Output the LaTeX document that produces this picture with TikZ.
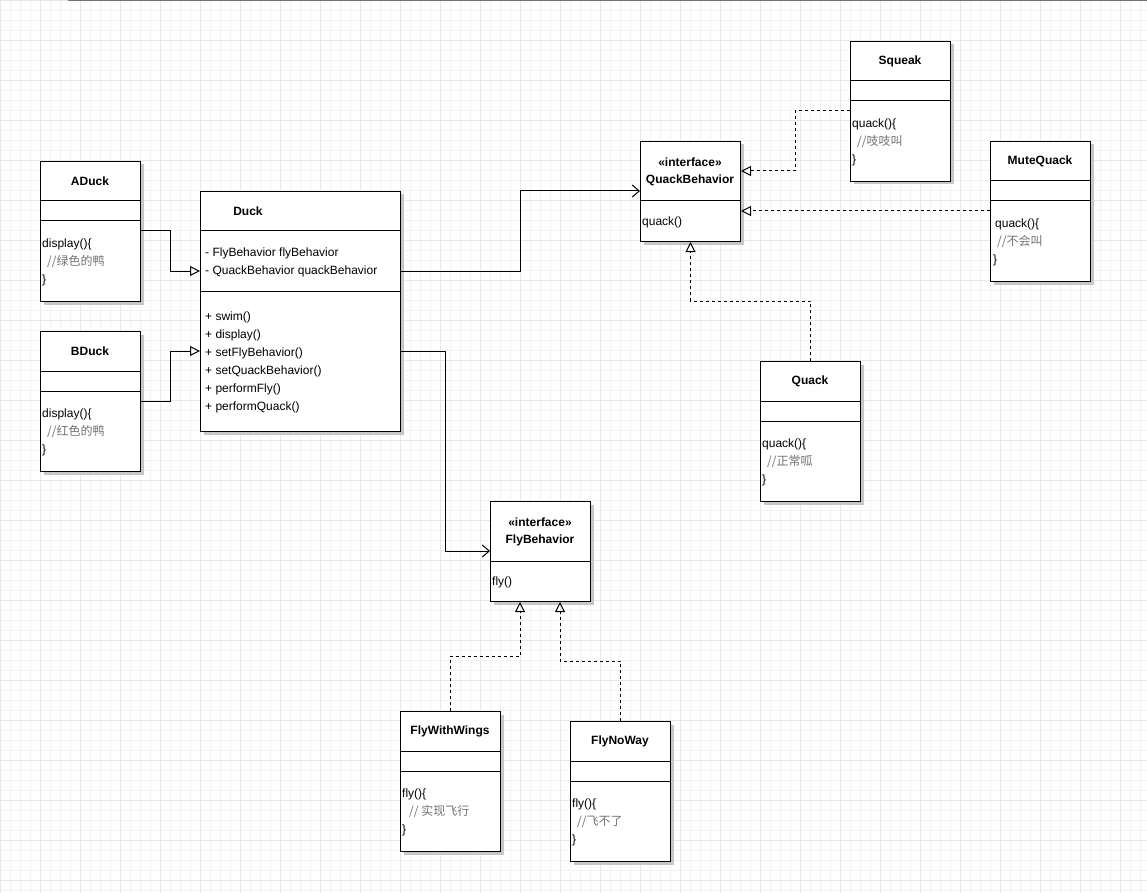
\documentclass[tikz,border=0pt]{standalone}
\usepackage{fontspec}
\setmainfont{Liberation Sans}
\newfontfamily\cjk{Noto Sans CJK SC}
\usetikzlibrary{arrows.meta,shadows}
\tikzset{
  box/.style={draw, line width=1pt, fill=white, inner sep=0pt, anchor=north west,
    drop shadow={shadow xshift=3pt, shadow yshift=-3pt, fill=black!22, opacity=1}},
  div/.style={line width=1pt},
  ttl/.style={inner sep=0pt, font=\fontsize{12}{14}\selectfont\bfseries},
  txt/.style={inner sep=0pt, anchor=mid west, yshift=-1.5pt, font=\fontsize{12}{14}\selectfont},
  cmt/.style={inner sep=0pt, anchor=mid west, yshift=-1.5pt, text=black!55, font=\fontsize{12}{14}\selectfont\cjk},
  gen/.style={line width=1pt, -{Triangle[open, length=10pt, width=10pt]}},
  real/.style={line width=1pt, dash pattern=on 3pt off 3pt, -{Triangle[open, length=10pt, width=10pt]}},
  assoc/.style={line width=1pt, -{Straight Barb[length=7pt, width=12pt, line width=1pt]}},
}
\begin{document}
\begin{tikzpicture}[x=1pt, y=-1pt]
\useasboundingbox (0,0) rectangle (1147,893);
\fill[white] (0,0) rectangle (1147,893);
\draw[black!5, line width=0.6pt, step=10pt] (0,0) grid (1147,893);
\draw[black!9, line width=0.8pt, step=40pt] (0,0) grid (1147,893);
\draw[black!55, line width=1.5pt] (68,0.5) -- (1147,0.5);

% ---- ADuck
\node[box, minimum width=100pt, minimum height=140pt] (aduck) at (40,161) {};
\draw[div] ([yshift=-40pt]aduck.north west) -- ([yshift=-40pt]aduck.north east);
\draw[div] ([yshift=-60pt]aduck.north west) -- ([yshift=-60pt]aduck.north east);
\node[ttl] (aduckT) at (90,181) {ADuck};
\node[txt] (aduckM1) at (42,243) {display()\{};
\node[cmt] (aduckM2) at (47,261) {//绿色的鸭};
\node[txt] (aduckM3) at (42,279) {\}};

% ---- BDuck
\node[box, minimum width=100pt, minimum height=140pt] (bduck) at (40,331) {};
\draw[div] ([yshift=-40pt]bduck.north west) -- ([yshift=-40pt]bduck.north east);
\draw[div] ([yshift=-60pt]bduck.north west) -- ([yshift=-60pt]bduck.north east);
\node[ttl] (bduckT) at (90,351) {BDuck};
\node[txt] (bduckM1) at (42,413) {display()\{};
\node[cmt] (bduckM2) at (47,431) {//红色的鸭};
\node[txt] (bduckM3) at (42,449) {\}};

% ---- Duck
\node[box, minimum width=200pt, minimum height=240pt] (duck) at (200,191) {};
\draw[div] ([yshift=-40pt]duck.north west) -- ([yshift=-40pt]duck.north east);
\draw[div] ([yshift=-100pt]duck.north west) -- ([yshift=-100pt]duck.north east);
\node[ttl] (duckT) at (248,211) {Duck};
\node[txt] (duckA1) at (205,252) {- FlyBehavior flyBehavior};
\node[txt] (duckA2) at (205,270) {- QuackBehavior quackBehavior};
\node[txt] (duckM1) at (205,316) {+ swim()};
\node[txt] (duckM2) at (205,334) {+ display()};
\node[txt] (duckM3) at (205,352) {+ setFlyBehavior()};
\node[txt] (duckM4) at (205,370) {+ setQuackBehavior()};
\node[txt] (duckM5) at (205,388) {+ performFly()};
\node[txt] (duckM6) at (205,406) {+ performQuack()};

% ---- QuackBehavior
\node[box, minimum width=100pt, minimum height=100pt] (qb) at (640,141) {};
\draw[div] ([yshift=-60pt]qb.north west) -- ([yshift=-60pt]qb.north east);
\node[ttl] (qbS) at (690,162) {«interface»};
\node[ttl] (qbT) at (690,180) {QuackBehavior};
\node[txt] (qbM) at (642,221) {quack()};

% ---- Squeak
\node[box, minimum width=100pt, minimum height=140pt] (squeak) at (850,41) {};
\draw[div] ([yshift=-40pt]squeak.north west) -- ([yshift=-40pt]squeak.north east);
\draw[div] ([yshift=-60pt]squeak.north west) -- ([yshift=-60pt]squeak.north east);
\node[ttl] (squeakT) at (900,61) {Squeak};
\node[txt] (squeakM1) at (852,123) {quack()\{};
\node[cmt] (squeakM2) at (857,141) {//吱吱叫};
\node[txt] (squeakM3) at (852,159) {\}};

% ---- MuteQuack
\node[box, minimum width=100pt, minimum height=140pt] (mute) at (990,141) {};
\draw[div] ([yshift=-40pt]mute.north west) -- ([yshift=-40pt]mute.north east);
\draw[div] ([yshift=-60pt]mute.north west) -- ([yshift=-60pt]mute.north east);
\node[ttl] (muteT) at (1040,161) {MuteQuack};
\node[txt] (muteM1) at (995,223) {quack()\{};
\node[cmt] (muteM2) at (997,241) {//不会叫};
\node[txt] (muteM3) at (993,259) {\}};

% ---- Quack
\node[box, minimum width=100pt, minimum height=140pt] (quack) at (760,361) {};
\draw[div] ([yshift=-40pt]quack.north west) -- ([yshift=-40pt]quack.north east);
\draw[div] ([yshift=-60pt]quack.north west) -- ([yshift=-60pt]quack.north east);
\node[ttl] (quackT) at (810,381) {Quack};
\node[txt] (quackM1) at (762,443) {quack()\{};
\node[cmt] (quackM2) at (767,461) {//正常呱};
\node[txt] (quackM3) at (762,479) {\}};

% ---- FlyBehavior
\node[box, minimum width=100pt, minimum height=100pt] (fb) at (490,501) {};
\draw[div] ([yshift=-60pt]fb.north west) -- ([yshift=-60pt]fb.north east);
\node[ttl] (fbS) at (540,522) {«interface»};
\node[ttl] (fbT) at (540,540) {FlyBehavior};
\node[txt] (fbM) at (492,581) {fly()};

% ---- FlyWithWings
\node[box, minimum width=100pt, minimum height=140pt] (fww) at (400,711) {};
\draw[div] ([yshift=-40pt]fww.north west) -- ([yshift=-40pt]fww.north east);
\draw[div] ([yshift=-60pt]fww.north west) -- ([yshift=-60pt]fww.north east);
\node[ttl] (fwwT) at (450,731) {FlyWithWings};
\node[txt] (fwwM1) at (402,793) {fly()\{};
\node[cmt] (fwwM2) at (409,811) {// 实现飞行};
\node[txt] (fwwM3) at (402,829) {\}};

% ---- FlyNoWay
\node[box, minimum width=100pt, minimum height=140pt] (fnw) at (570,721) {};
\draw[div] ([yshift=-40pt]fnw.north west) -- ([yshift=-40pt]fnw.north east);
\draw[div] ([yshift=-60pt]fnw.north west) -- ([yshift=-60pt]fnw.north east);
\node[ttl] (fnwT) at (620,741) {FlyNoWay};
\node[txt] (fnwM1) at (572,803) {fly()\{};
\node[cmt] (fnwM2) at (577,821) {//飞不了};
\node[txt] (fnwM3) at (572,839) {\}};

% ---- connectors
\draw[gen] (aduck.east |- 0,231) -| (170,271) -- (duck.west |- 0,271);
\draw[gen] (bduck.east |- 0,401) -| (170,351) -- (duck.west |- 0,351);
\draw[assoc] (duck.east |- 0,271) -| (520,191) -- (qb.west |- 0,191);
\draw[assoc] (duck.east |- 0,351) -| (445,551) -- (fb.west |- 0,551);
\draw[real] (squeak.west |- 0,111) -| (795,171) -- (qb.east |- 0,171);
\draw[real] (mute.west |- 0,211) -- (qb.east |- 0,211);
\draw[real] (quack.north) -- (quack.north |- 0,301) -| (qb.south);
\draw[real] (fww.north) -- (fww.north |- 0,656) -| ([xshift=30pt]fb.south west);
\draw[real] (fnw.north) -- (fnw.north |- 0,661) -| ([xshift=70pt]fb.south west);
\end{tikzpicture}
\end{document}
